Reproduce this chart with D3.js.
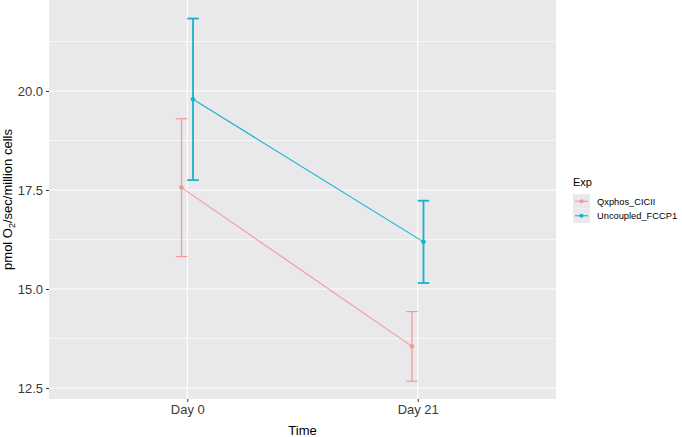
<!DOCTYPE html>
<html>
<head>
<meta charset="utf-8">
<script src="https://cdn.jsdelivr.net/npm/d3@7"></script>
<style>
  body { margin: 0; background: #fff; }
  text { font-family: "Liberation Sans", Arial, sans-serif; }
</style>
</head>
<body>
<svg width="682" height="437"></svg>
<script>
// data
const categories = ['Day 0', 'Day 21'];
const seriesNames = ['Qxphos_CICII', 'Uncoupled_FCCP1'];
const qxphosMean = [17.56, 13.55];
const qxphosErr = [1.74, 0.88];
const uncoupledMean = [19.79, 16.19];
const uncoupledErr = [2.04, 1.04];
const yMajor = [12.5, 15.0, 17.5, 20.0];
const yMinor = [13.75, 16.25, 18.75, 21.25];

const colors = ['#F8766D', '#14B4CA'];
const series = [
    { name: seriesNames[0], mean: qxphosMean, err: qxphosErr, color: colors[0], dodge: -1, op: 0.7, ew: 1.2 },
    { name: seriesNames[1], mean: uncoupledMean, err: uncoupledErr, color: colors[1], dodge: 1, op: 1, ew: 1.8 }
];

const svg = d3.select('svg');
const panel = { left: 49, right: 556, top: 0, bottom: 399 };

const x = d3.scalePoint().domain(categories).range([panel.left, panel.right]).padding(0.6);
const y = d3.scaleLinear().domain([12.222, 22.298]).range([panel.bottom, panel.top]);
const step = x.step();
const dodge = 0.025 * step;

// panel background
svg.append('rect')
    .attr('x', panel.left).attr('y', panel.top)
    .attr('width', panel.right - panel.left).attr('height', panel.bottom - panel.top)
    .attr('fill', '#E9E9EB');

// grid
svg.selectAll('.minor').data(yMinor).join('line')
    .attr('x1', panel.left).attr('x2', panel.right)
    .attr('y1', d => y(d)).attr('y2', d => y(d))
    .attr('stroke', '#fff').attr('stroke-width', 0.6);
svg.selectAll('.major').data(yMajor).join('line')
    .attr('x1', panel.left).attr('x2', panel.right)
    .attr('y1', d => y(d)).attr('y2', d => y(d))
    .attr('stroke', '#fff').attr('stroke-width', 1.1);
svg.selectAll('.vgrid').data(categories).join('line')
    .attr('x1', d => x(d)).attr('x2', d => x(d))
    .attr('y1', panel.top).attr('y2', panel.bottom)
    .attr('stroke', '#fff').attr('stroke-width', 1.1);

// axes
const yAxis = svg.append('g')
    .attr('transform', `translate(${panel.left},0)`)
    .call(d3.axisLeft(y).tickValues(yMajor).tickFormat(d3.format('.1f')).tickSize(3).tickPadding(3));
const xAxis = svg.append('g')
    .attr('transform', `translate(0,${panel.bottom})`)
    .call(d3.axisBottom(x).tickSize(3).tickPadding(3));
[yAxis, xAxis].forEach(g => {
    g.select('.domain').remove();
    g.selectAll('line').attr('stroke', '#333');
    g.selectAll('text').attr('fill', '#3a3a3a').style('font-size', '13px')
        .style('font-family', '"Liberation Sans", Arial, sans-serif');
});

// series
series.forEach(s => {
    const g = svg.append('g').attr('opacity', s.op);
    const pts = categories.map((c, i) => ({ x: x(c) + s.dodge * dodge, m: s.mean[i], e: s.err[i] }));
    g.append('path')
        .attr('d', d3.line().x(d => d.x).y(d => y(d.m))(pts))
        .attr('fill', 'none').attr('stroke', s.color).attr('stroke-width', 1.1);
    pts.forEach(p => {
        g.append('line').attr('x1', p.x).attr('x2', p.x)
            .attr('y1', y(p.m - p.e)).attr('y2', y(p.m + p.e))
            .attr('stroke', s.color).attr('stroke-width', s.ew);
        [p.m - p.e, p.m + p.e].forEach(v => {
            g.append('line').attr('x1', p.x - dodge).attr('x2', p.x + dodge)
                .attr('y1', y(v)).attr('y2', y(v))
                .attr('stroke', s.color).attr('stroke-width', s.ew);
        });
        g.append('circle').attr('cx', p.x).attr('cy', y(p.m)).attr('r', 2.3).attr('fill', s.color);
    });
});

// axis titles
svg.append('text')
    .attr('x', (panel.left + panel.right) / 2).attr('y', 435)
    .attr('text-anchor', 'middle').style('font-size', '13px').attr('fill', '#000')
    .text('Time');
const yt = svg.append('text')
    .attr('transform', `translate(12,${(panel.top + panel.bottom) / 2}) rotate(-90)`)
    .attr('text-anchor', 'middle').style('font-size', '13px').attr('fill', '#000');
yt.append('tspan').text('pmol O');
yt.append('tspan').attr('dy', 3).style('font-size', '9px').text('2');
yt.append('tspan').attr('dy', -3).text('/sec/million cells');

// legend
const legend = svg.append('g').attr('transform', 'translate(573,0)');
legend.append('text').attr('x', 0).attr('y', 186).style('font-size', '11px').attr('fill', '#000').text('Exp');
series.forEach((s, i) => {
    const ky = 194 + i * 14.5;
    const k = legend.append('g');
    k.append('rect').attr('x', 0).attr('y', ky).attr('width', 17).attr('height', 14.5).attr('fill', '#E9E9EB');
    const kg = k.append('g').attr('opacity', s.op);
    kg.append('line').attr('x1', 2).attr('x2', 15).attr('y1', ky + 7.25).attr('y2', ky + 7.25)
        .attr('stroke', s.color).attr('stroke-width', 1.1);
    kg.append('circle').attr('cx', 8.5).attr('cy', ky + 7.25).attr('r', 2.1).attr('fill', s.color);
    k.append('text').attr('x', 24).attr('y', ky + 7.25).attr('dy', '0.35em')
        .style('font-size', '9.3px').attr('fill', '#000').text(s.name);
});
</script>
</body>
</html>
